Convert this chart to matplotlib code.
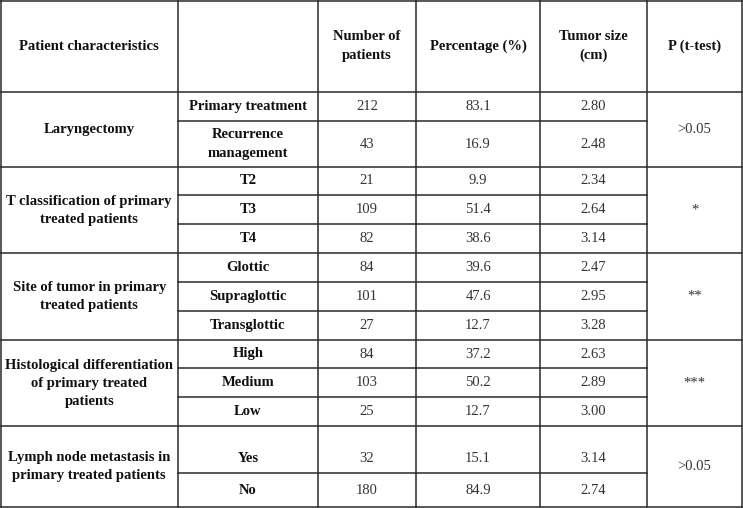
import matplotlib.pyplot as plt

# table content
headers = ["Patient characteristics", "", "Number of\npatients", "Percentage (%)",
           "Tumor size\n(cm)", "P (t-test)"]
groups = ["Laryngectomy",
          "T classification of primary\ntreated patients",
          "Site of tumor in primary\ntreated patients",
          "Histological differentiation\nof primary treated\npatients",
          "Lymph node metastasis in\nprimary treated patients"]
subgroups = [["Primary treatment", "Recurrence\nmanagement"],
             ["T2", "T3", "T4"],
             ["Glottic", "Supraglottic", "Transglottic"],
             ["High", "Medium", "Low"],
             ["Yes", "No"]]
n_patients = [[212, 43], [21, 109, 82], [84, 101, 27], [84, 103, 25], [32, 180]]
percentage = [[83.1, 16.9], [9.9, 51.4, 38.6], [39.6, 47.6, 12.7], [37.2, 50.2, 12.7], [15.1, 84.9]]
tumor_size = [[2.80, 2.48], [2.34, 2.64, 3.14], [2.47, 2.95, 3.28], [2.63, 2.89, 3.00], [3.14, 2.74]]
p_values = [">0.05", "*", "**", "***", ">0.05"]

# layout in pixels
W, H = 743, 508
col_x = [0.5, 178, 318, 416, 540, 647, 742]
header_bottom = 92
row_heights = [[29, 46], [28, 29, 29], [29, 29, 29], [28, 29, 29], [47, 34]]

fig = plt.figure(figsize=(W / 100, H / 100), dpi=100)
ax = fig.add_axes([0, 0, 1, 1])
ax.set_xlim(0, W)
ax.set_ylim(H, 0)
ax.axis("off")

serif = ["Liberation Serif", "DejaVu Serif"]
fs = 10.5
bold_kw = dict(family=serif, fontsize=fs, fontweight="bold", color="#111111",
               ha="center", va="center", linespacing=1.5)
num_kw = dict(family=serif, fontsize=fs, color="#333333", ha="center", va="center")
line_kw = dict(color="#2a2a2a", lw=1.1)

# header
for i, h in enumerate(headers):
    ax.text((col_x[i] + col_x[i + 1]) / 2, header_bottom / 2, h, **bold_kw)

y = header_bottom
ax.plot([0, W], [y, y], **line_kw)
for g, name in enumerate(groups):
    top = y
    for j, sub in enumerate(subgroups[g]):
        h = row_heights[g][j]
        # the "Yes" row keeps its text near the bottom
        cy = y + h - 15 if sub == "Yes" else y + h / 2
        ax.text((col_x[1] + col_x[2]) / 2, cy, sub, **bold_kw)
        ax.text((col_x[2] + col_x[3]) / 2, cy, str(n_patients[g][j]), **num_kw)
        ax.text((col_x[3] + col_x[4]) / 2, cy, f"{percentage[g][j]:.1f}", **num_kw)
        ax.text((col_x[4] + col_x[5]) / 2, cy, f"{tumor_size[g][j]:.2f}", **num_kw)
        y += h
        if j < len(subgroups[g]) - 1:
            ax.plot([col_x[1], col_x[5]], [y, y], **line_kw)
    mid = (top + y) / 2
    ax.text((col_x[0] + col_x[1]) / 2, mid, name, **bold_kw)
    ax.text((col_x[5] + col_x[6]) / 2, mid, p_values[g], **num_kw)
    ax.plot([0, W], [y, y], **line_kw)

bottom = y
for x in col_x:
    ax.plot([x, x], [0, bottom], **line_kw)
ax.plot([0, W], [0.5, 0.5], **line_kw)

fig.savefig("out.png", dpi=100, facecolor="white")
